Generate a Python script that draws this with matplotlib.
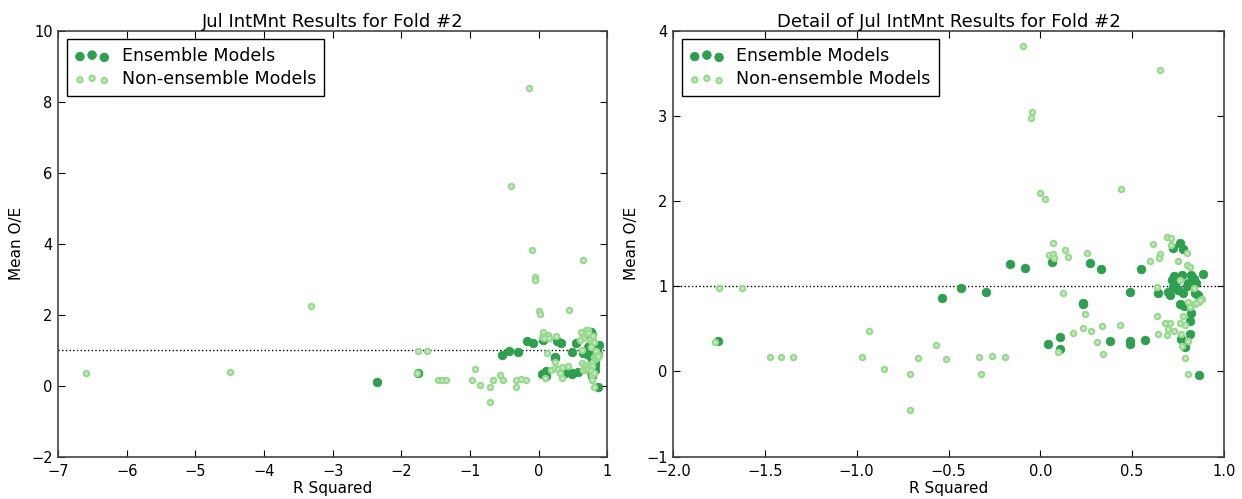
import matplotlib
matplotlib.use("Agg")
import matplotlib.pyplot as plt

plt.rcParams['font.family'] = ['DejaVu Sans']

# Ensemble models: R squared vs mean O/E
rsq_ens = [-2.351, -1.756, -0.537, -0.430, -0.294, -0.167, -0.086, 0.063, 0.271, 0.330,
           0.232, 0.235, 0.044, 0.106, 0.106, 0.380, 0.489, 0.489, 0.572, 0.489,
           0.547, 0.643, 0.693, 0.706, 0.718, 0.729, 0.724, 0.760, 0.722, 0.777,
           0.772, 0.823, 0.806, 0.848, 0.885, 0.777, 0.843, 0.860, 0.760, 0.781,
           0.823, 0.816, 0.816, 0.764, 0.785, 0.866, 0.740, 0.800, 0.835, 0.750]
oe_ens = [0.11, 0.353, 0.866, 0.984, 0.937, 1.262, 1.211, 1.281, 1.270, 1.200,
          0.807, 0.790, 0.325, 0.404, 0.263, 0.353, 0.357, 0.320, 0.372, 0.937,
          1.200, 0.920, 0.929, 0.900, 1.077, 1.117, 0.990, 1.510, 1.454, 1.440,
          1.128, 1.128, 1.040, 1.034, 1.148, 0.925, 0.925, 0.893, 0.795, 0.764,
          0.686, 0.592, 0.443, 0.380, 0.286, -0.043, 1.050, 1.000, 1.080, 0.960]

# Non-ensemble models
rsq_non = [-6.597, -4.500, -3.313, -0.145, -0.399,
           -0.096, 0.649, -0.046, -0.052, 0.000, 0.023, 0.438, -1.752, -1.624, -1.772,
           -1.470, -1.413, -1.347, -0.931, -0.971, -0.850, -0.712, -0.712, -0.664, -0.568,
           -0.514, -0.336, -0.324, -0.263, -0.190, 0.067, 0.046, 0.071, 0.073, 0.134,
           0.152, 0.255, 0.125, 0.244, 0.177, 0.232, 0.276, 0.334, 0.432, 0.307,
           0.340, 0.094, 0.616, 0.649, 0.645, 0.599, 0.633, 0.643, 0.635, 0.691,
           0.714, 0.714, 0.749, 0.797, 0.797, 0.814, 0.760, 0.835, 0.806, 0.816,
           0.837, 0.881, 0.864, 0.681, 0.708, 0.697, 0.689, 0.727, 0.760, 0.777,
           0.785, 0.768, 0.772, 0.785, 0.804, 0.804, 0.850, 0.870]
oe_non = [0.345, 0.39, 2.245, 8.39, 5.63,
          3.82, 3.54, 3.05, 2.97, 2.09, 2.03, 2.14, 0.98, 0.98, 0.35,
          0.165, 0.165, 0.165, 0.48, 0.165, 0.027, -0.03, -0.447, 0.157, 0.306,
          0.149, 0.168, -0.024, 0.184, 0.172, 1.505, 1.364, 1.379, 1.330, 1.426,
          1.348, 1.395, 0.920, 0.670, 0.455, 0.510, 0.480, 0.533, 0.549, 0.349,
          0.204, 0.223, 1.500, 1.375, 1.330, 1.300, 0.650, 0.435, 0.995, 1.580,
          1.567, 1.490, 1.300, 1.395, 1.246, 1.226, 1.078, 0.980, 0.820, 0.760,
          0.790, 0.854, 0.820, 0.570, 0.570, 0.500, 0.430, 0.470, 0.570, 0.650,
          0.550, 0.440, 0.300, 0.157, -0.030, 0.356, 0.800, 0.840]

titles = ["Jul IntMnt Results for Fold #2", "Detail of Jul IntMnt Results for Fold #2"]
xlims = [(-7, 1), (-2, 1)]
ylims = [(-2, 10), (-1, 4)]
xticks = [list(range(-7, 2)), [-2.0, -1.5, -1.0, -0.5, 0.0, 0.5, 1.0]]
yticks = [list(range(-2, 11, 2)), list(range(-1, 5))]

ens_color = '#2e9e4f'
non_face = '#c4ebbd'
non_edge = '#98d88f'

fig = plt.figure(figsize=(12.42, 4.99), dpi=100)
positions = [[0.0469, 0.0848, 0.442, 0.8537], [0.5419, 0.0848, 0.4436, 0.8537]]

for i in range(2):
    ax = fig.add_axes(positions[i])
    ax.scatter(rsq_ens, oe_ens, s=38, c=ens_color, edgecolors=ens_color, linewidths=0.6,
               label='Ensemble Models', zorder=3)
    ax.scatter(rsq_non, oe_non, s=15, c=non_face, edgecolors=non_edge, linewidths=1.5,
               label='Non-ensemble Models', zorder=3)
    ax.axhline(1, color='black', linestyle=':', linewidth=1, zorder=2)
    ax.set_xlim(*xlims[i])
    ax.set_ylim(*ylims[i])
    ax.set_xticks(xticks[i])
    ax.set_yticks(yticks[i])
    if i == 1:
        ax.set_xticklabels(['\u22122.0', '\u22121.5', '\u22121.0', '\u22120.5', '0.0', '0.5', '1.0'])
    ax.tick_params(direction='in', top=True, right=True, length=5, width=0.8,
                   labelsize=10.5, colors='black')
    ax.tick_params(axis='x', pad=5)
    ax.tick_params(axis='y', pad=4)
    for sp in ax.spines.values():
        sp.set_linewidth(1.2)
        sp.set_color('#444444')
    ax.set_title(titles[i], fontsize=13, pad=3)
    ax.set_xlabel('R Squared', fontsize=11, labelpad=2)
    ax.set_ylabel('Mean O/E', fontsize=11, labelpad=5)
    leg = ax.legend(loc='upper left', scatterpoints=3, fontsize=12.5, fancybox=False,
                    framealpha=1, borderpad=0.45, handletextpad=0.7, labelspacing=0.3,
                    borderaxespad=0.5)
    leg.get_frame().set_edgecolor('black')
    leg.get_frame().set_linewidth(1.0)

fig.savefig('out.png', dpi=100)
